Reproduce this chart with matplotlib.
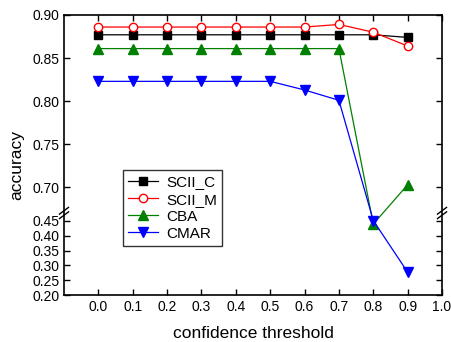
import numpy as np
import matplotlib
matplotlib.use("Agg")
import matplotlib.pyplot as plt
from matplotlib.ticker import FormatStrFormatter

plt.rcParams['font.family'] = ['Liberation Sans', 'DejaVu Sans']

thresholds = [0.0, 0.1, 0.2, 0.3, 0.4, 0.5, 0.6, 0.7, 0.8, 0.9]
scii_c = [0.877, 0.877, 0.877, 0.877, 0.877, 0.877, 0.877, 0.877, 0.877, 0.874]
scii_m = [0.886, 0.886, 0.886, 0.886, 0.886, 0.886, 0.886, 0.889, 0.880, 0.864]
cba = [0.861, 0.861, 0.861, 0.861, 0.861, 0.861, 0.861, 0.861, 0.439, 0.703]
cmar = [0.823, 0.823, 0.823, 0.823, 0.823, 0.823, 0.813, 0.801, 0.451, 0.277]

yticks = [0.20, 0.25, 0.30, 0.35, 0.40, 0.45, 0.70, 0.75, 0.80, 0.85, 0.90]
xticks = [0.0, 0.1, 0.2, 0.3, 0.4, 0.5, 0.6, 0.7, 0.8, 0.9, 1.0]

# broken y axis: 0.20-0.475 squeezed below, 0.67-0.90 stretched above
lo_slope, hi_slope = 296.0, 860.0
brk_lo, brk_hi = 0.475, 0.67
f_brk = (brk_lo - 0.2) * lo_slope
xp = np.array([-10.0, 0.2, brk_lo, brk_hi, 0.9, 10.0])
fp = np.array([-10.2 * lo_slope, 0.0, f_brk, f_brk + 0.2,
               f_brk + 0.2 + (0.9 - brk_hi) * hi_slope,
               f_brk + 0.2 + (10 - brk_hi) * hi_slope])


def fwd(v):
    return np.interp(v, xp, fp)


def inv(v):
    return np.interp(v, fp, xp)


fig = plt.figure(figsize=(4.52, 3.42), dpi=100)
ax = fig.add_axes([0.1416, 0.1374, 0.8363, 0.8188])
ax.set_yscale('function', functions=(fwd, inv))

ax.plot(thresholds, scii_c, color='black', marker='s', ms=5.5, lw=0.9, label='SCII_C')
ax.plot(thresholds, scii_m, color='red', marker='o', ms=6, mfc='white', mec='red',
        mew=1.0, lw=0.9, label='SCII_M')
ax.plot(thresholds, cba, color='green', marker='^', ms=6.5, lw=0.9, label='CBA')
ax.plot(thresholds, cmar, color='blue', marker='v', ms=6.5, lw=0.9, label='CMAR')

ax.set_xlim(-0.1, 1.0)
ax.set_ylim(0.20, 0.90)
ax.set_xticks(xticks)
ax.set_yticks(yticks)
ax.xaxis.set_major_formatter(FormatStrFormatter('%.1f'))
ax.yaxis.set_major_formatter(FormatStrFormatter('%.2f'))
ax.minorticks_off()
ax.tick_params(direction='in', length=4, width=1.0, labelsize=10,
               top=True, right=True, labelright=False, labeltop=False)
for sp in ax.spines.values():
    sp.set_linewidth(1.2)

ax.set_xlabel('confidence threshold', fontsize=12.5, labelpad=9)
ax.set_ylabel('accuracy', fontsize=12.5)
ax.yaxis.set_label_coords(-0.104, 0.464)

# break marks on both spines
yb = 1 - (213 - 15) / 280.0
for xs in (0.0, 1.0):
    for dy in (-0.008, 0.008):
        ax.plot([xs - 0.012, xs + 0.012], [yb + dy - 0.012, yb + dy + 0.012],
                transform=ax.transAxes, color='black', lw=1.0, clip_on=False)

leg = ax.legend(loc='upper left', bbox_to_anchor=(0.155, 0.446), borderaxespad=0,
                fontsize=11, frameon=True, fancybox=False, edgecolor='black',
                handlelength=2.0, handletextpad=0.5, labelspacing=0.2,
                borderpad=0.35)
leg.get_frame().set_linewidth(1.0)

fig.savefig('out.png', dpi=100)
